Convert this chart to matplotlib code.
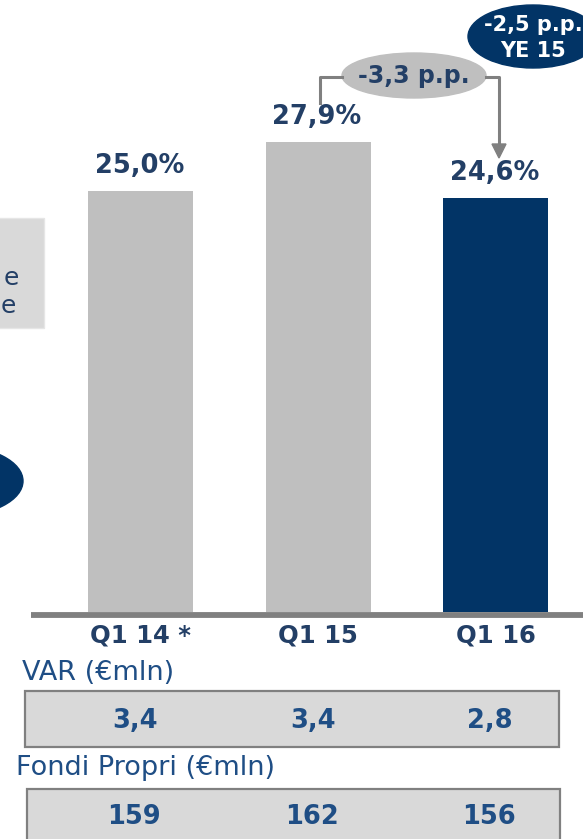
import matplotlib
matplotlib.use("Agg")
import matplotlib.pyplot as plt
from matplotlib.patches import Ellipse, Rectangle, Polygon
from matplotlib import transforms

# data
categories = ["Q1 14 *", "Q1 15", "Q1 16"]
ratio = [25.0, 27.9, 24.6]
ratio_labels = ["25,0%", "27,9%", "24,6%"]
var_values = ["3,4", "3,4", "2,8"]
fondi_values = ["159", "162", "156"]
delta_q = "-3,3 p.p."
delta_ye = ["-2,5 p.p.", "YE 15"]

NAVY = "#023466"
GREY = "#bfbfbf"
TXT = "#233f66"
TXT_LIGHT = "#1f4e85"
LINE = "#808080"
BOX = "#d9d9d9"

plt.rcParams["font.family"] = ["DejaVu Sans"]

W, H = 583, 839
fig = plt.figure(figsize=(W / 100, H / 100), dpi=100)

# bar axes: baseline sits at 612 px from the top, 16.84 px per point
base_px = 612
px_per_unit = 16.84
step_px = 177.5
first_px = 140.5
ax = fig.add_axes([0, (H - base_px) / H, 1, base_px / H])
ax.set_ylim(0, base_px / px_per_unit)
ax.set_xlim(-first_px / step_px, (W - first_px) / step_px)
ax.axis("off")

xs = range(len(categories))
colors = [GREY, GREY, NAVY]
ax.bar(xs, ratio, width=105 / step_px, color=colors, zorder=2)
for x, v, lab in zip(xs, ratio, ratio_labels):
    ax.annotate(lab, (x, v), xytext=(-1, 25), textcoords="offset pixels",
                ha="center", va="center", fontsize=18.5, fontweight="bold",
                color=TXT)

# overlay in pixel coordinates for the slide decorations
ov = fig.add_axes([0, 0, 1, 1], zorder=3)
ov.set_xlim(0, W)
ov.set_ylim(H, 0)
ov.axis("off")
ov.patch.set_alpha(0)

mix = transforms.blended_transform_factory(ax.transData, ov.transData)

# axis line
ov.plot([31, W], [615, 615], color=LINE, lw=4.2, solid_capstyle="butt")

for x, lab in zip(xs, categories):
    ov.text(x, 636, lab, transform=mix, ha="center", va="center",
            fontsize=17.5, fontweight="bold", color=TXT)

# VAR table
ov.text(22, 673, "VAR (€mln)", ha="left", va="center", fontsize=19.5,
        color=TXT_LIGHT)
ov.add_patch(Rectangle((25, 691), 534, 56, facecolor=BOX, edgecolor=LINE,
                       lw=1.6))
for x, v in zip(xs, var_values):
    ov.text(x - 0.03, 721, v, transform=mix, ha="center", va="center",
            fontsize=18.5, fontweight="bold", color=TXT_LIGHT)

# Fondi Propri table
ov.text(16, 768, "Fondi Propri (€mln)", ha="left", va="center",
        fontsize=19.5, color=TXT_LIGHT)
ov.add_patch(Rectangle((27, 789), 533, 70, facecolor=BOX, edgecolor=LINE,
                       lw=1.6))
for x, v in zip(xs, fondi_values):
    ov.text(x - 0.035, 817, v, transform=mix, ha="center", va="center",
            fontsize=18.5, fontweight="bold", color=TXT_LIGHT)

# change bubble Q1 15 -> Q1 16
ov.plot([320, 320, 342], [103, 77, 77], color=LINE, lw=2.2)
ov.plot([486, 499, 499], [77, 77, 146], color=LINE, lw=2.2)
ov.add_patch(Polygon([[492, 144], [506, 144], [499, 158]], closed=True,
                     color=LINE))
ov.add_patch(Ellipse((414, 75.5), 144, 45, color=GREY))
ov.text(414, 76, delta_q, ha="center", va="center", fontsize=17,
        fontweight="bold", color=TXT)

# change vs YE 15
ov.add_patch(Ellipse((533, 36.5), 130, 63, color=NAVY))
ov.text(533, 25, delta_ye[0], ha="center", va="center", fontsize=15,
        fontweight="bold", color="white")
ov.text(533, 51, delta_ye[1], ha="center", va="center", fontsize=15,
        fontweight="bold", color="white")

# leftovers of neighbouring slide shapes
ov.add_patch(Rectangle((-5, 218), 49, 110, facecolor=BOX, edgecolor="#e6e6e6",
                       lw=1))
ov.text(19, 278, "e", ha="right", va="center", fontsize=18, color=TXT)
ov.text(1, 306, "e", ha="left", va="center", fontsize=18, color=TXT)
ov.add_patch(Ellipse((-45, 481), 136, 70, color=NAVY))

fig.savefig("out.png", dpi=100)
